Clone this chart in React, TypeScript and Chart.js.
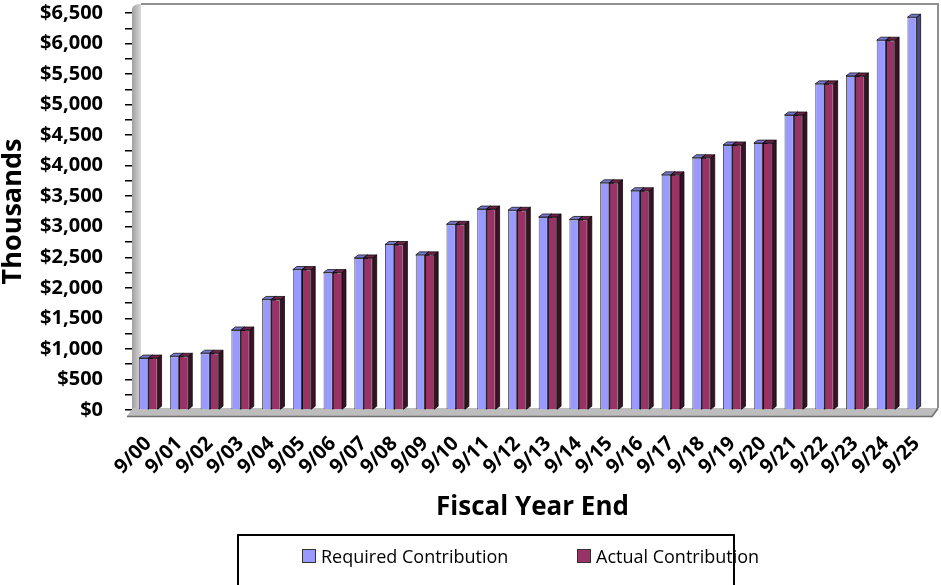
import React, { useEffect, useRef } from "react";
import { Chart, registerables } from "chart.js";

Chart.register(...registerables);

const categories = ["9/00", "9/01", "9/02", "9/03", "9/04", "9/05", "9/06", "9/07", "9/08", "9/09", "9/10", "9/11", "9/12", "9/13", "9/14", "9/15", "9/16", "9/17", "9/18", "9/19", "9/20", "9/21", "9/22", "9/23", "9/24", "9/25"];
const requiredContribution = [850, 880, 930, 1310, 1810, 2300, 2250, 2490, 2710, 2540, 3040, 3290, 3270, 3160, 3120, 3720, 3590, 3850, 4130, 4340, 4370, 4830, 5340, 5470, 6055, 6430];
const actualContribution = [850, 880, 930, 1310, 1810, 2300, 2250, 2490, 2710, 2540, 3040, 3290, 3270, 3160, 3120, 3720, 3590, 3850, 4130, 4340, 4370, 4830, 5340, 5470, 6055, null];
const seriesNames = ["Required Contribution", "Actual Contribution"];
const yMax = 6500;
const yStep = 250;
const xTitle = "Fiscal Year End";
const yTitle = "Thousands";

const frontColors = ["#9999FF", "#993366"];
const sideColors = ["#4a4a85", "#3a1226"];
const topColors = ["#7777cc", "#6e2449"];

const DX = 4;
const DY = 3;

const threeD = {
  id: "threeD",
  beforeDatasetsDraw(chart: any) {
    const ctx = chart.ctx;
    const { left, right, top, bottom } = chart.chartArea;
    ctx.save();
    // back frame
    ctx.strokeStyle = "#8f8f8f";
    ctx.lineWidth = 2;
    ctx.beginPath();
    ctx.moveTo(left + 8, top - 9);
    ctx.lineTo(right + 6, top - 9);
    ctx.lineTo(right + 6, bottom - 2);
    ctx.stroke();
    // side wall
    const g = ctx.createLinearGradient(left - 2, 0, left + 8, 0);
    g.addColorStop(0, "#9a9a9a");
    g.addColorStop(1, "#d8d8d8");
    ctx.fillStyle = g;
    ctx.beginPath();
    ctx.moveTo(left - 1, bottom + 4);
    ctx.lineTo(left - 1, top - 4);
    ctx.quadraticCurveTo(left, top - 9, left + 8, top - 9);
    ctx.lineTo(left + 8, bottom);
    ctx.closePath();
    ctx.fill();
    // floor
    ctx.fillStyle = "#bdbdbd";
    ctx.beginPath();
    ctx.moveTo(left - 6, bottom + 6);
    ctx.lineTo(right, bottom + 6);
    ctx.lineTo(right + 6, bottom - 2);
    ctx.lineTo(left, bottom - 2);
    ctx.closePath();
    ctx.fill();
    ctx.strokeStyle = "#6e6e6e";
    ctx.lineWidth = 1.5;
    ctx.beginPath();
    ctx.moveTo(left - 6, bottom + 6.5);
    ctx.lineTo(right, bottom + 6.5);
    ctx.lineTo(right + 6, bottom - 1.5);
    ctx.stroke();
    // bar depth faces
    const n = chart.data.labels.length;
    for (let i = 0; i < n; i++) {
      chart.data.datasets.forEach((ds: any, d: number) => {
        const meta = chart.getDatasetMeta(d);
        const bar = meta.data[i];
        if (!bar) return;
        const p = bar.getProps(["x", "y", "base", "width"], true);
        if (ds.data[i] == null || !isFinite(p.y)) return;
        const xl = p.x - p.width / 2;
        const xr = p.x + p.width / 2;
        ctx.lineWidth = 1;
        ctx.strokeStyle = "rgba(0,0,0,0.7)";
        // side face
        ctx.fillStyle = sideColors[d];
        ctx.beginPath();
        ctx.moveTo(xr, p.y);
        ctx.lineTo(xr + DX, p.y - DY);
        ctx.lineTo(xr + DX, p.base - DY);
        ctx.lineTo(xr, p.base);
        ctx.closePath();
        ctx.fill();
        ctx.stroke();
        // top face
        ctx.fillStyle = topColors[d];
        ctx.beginPath();
        ctx.moveTo(xl, p.y);
        ctx.lineTo(xl + DX, p.y - DY);
        ctx.lineTo(xr + DX, p.y - DY);
        ctx.lineTo(xr, p.y);
        ctx.closePath();
        ctx.fill();
        ctx.stroke();
      });
    }
    ctx.restore();
  },
};

export default function App() {
  const ref = useRef<HTMLCanvasElement | null>(null);
  useEffect(() => {
    if (!ref.current) return;
    const chart = new Chart(ref.current, {
      type: "bar",
      data: {
        labels: categories,
        datasets: [
          {
            label: seriesNames[0],
            data: requiredContribution,
            backgroundColor: frontColors[0],
            borderColor: "rgba(0,0,0,0.65)",
            borderWidth: 1,
          },
          {
            label: seriesNames[1],
            data: actualContribution as any,
            backgroundColor: frontColors[1],
            borderColor: "rgba(0,0,0,0.65)",
            borderWidth: 1,
          },
        ],
      },
      options: {
        responsive: false,
        animation: false,
        layout: { padding: { top: 13, right: 9, left: 0, bottom: 0 } },
        datasets: { bar: { categoryPercentage: 0.6, barPercentage: 1 } },
        plugins: { legend: { display: false }, tooltip: { enabled: false } },
        scales: {
          x: {
            grid: { display: false },
            border: { display: false },
            ticks: {
              color: "#000",
              minRotation: 45,
              maxRotation: 45,
              autoSkip: false,
              padding: 14,
              font: { family: "'Open Sans'", size: 20, weight: "bold" },
            },
            title: {
              display: true,
              text: xTitle,
              color: "#000",
              font: { family: "'Open Sans'", size: 26, weight: "bold" },
              padding: { top: 0, bottom: 62 },
            },
            afterFit: (s: any) => {
              s.height = 175;
              s.paddingLeft = 0;
              s.paddingRight = 0;
            },
          },
          y: {
            min: 0,
            max: yMax,
            grid: { drawOnChartArea: false, drawTicks: true, tickLength: 8, color: "#000", lineWidth: 1.5 },
            border: { display: true, color: "#000", width: 2 },
            ticks: {
              stepSize: yStep,
              autoSkip: false,
              color: "#000",
              padding: 22,
              font: { family: "'Open Sans'", size: 20, weight: "bold" },
              callback: (v: any) => (Number(v) % 500 === 0 ? "$" + Number(v).toLocaleString("en-US") : ""),
            },
            title: {
              display: true,
              text: yTitle,
              color: "#000",
              font: { family: "'Open Sans'", size: 27, weight: "bold" },
              padding: { top: -3, bottom: 0 },
            },
            afterFit: (s: any) => {
              s.width = 133;
              s.paddingTop = 0;
              s.paddingBottom = 0;
            },
          },
        },
      },
      plugins: [threeD],
    });
    return () => chart.destroy();
  }, []);

  const legendItems = [
    { name: seriesNames[0], color: frontColors[0], left: 63 },
    { name: seriesNames[1], color: frontColors[1], left: 338 },
  ];

  return (
    <div style={{ position: "fixed", left: 0, top: 0, width: 941, height: 585, overflow: "hidden", background: "#fff" }}>
      <canvas ref={ref} width={941} height={585} style={{ display: "block" }} />
      <div
        style={{
          position: "absolute",
          left: 237,
          top: 534,
          width: 498,
          height: 70,
          border: "2px solid #000",
          boxSizing: "border-box",
          fontFamily: "'Open Sans'",
          fontSize: 18,
          color: "#000",
        }}
      >
        {legendItems.map((it) => (
          <div key={it.name} style={{ position: "absolute", left: it.left, top: 8, display: "flex", alignItems: "center", whiteSpace: "nowrap" }}>
            <span style={{ display: "inline-block", width: 12, height: 12, background: it.color, border: "1.5px solid #333", marginRight: 5 }} />
            <span>{it.name}</span>
          </div>
        ))}
      </div>
    </div>
  );
}
